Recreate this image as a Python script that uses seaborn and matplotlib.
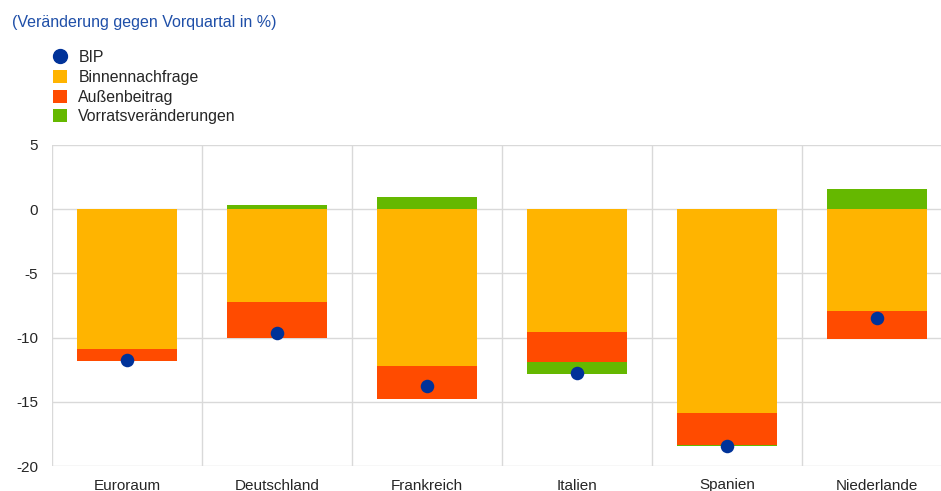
import numpy as np
import pandas as pd
import matplotlib
matplotlib.use("Agg")
import matplotlib.pyplot as plt
from matplotlib.lines import Line2D
from matplotlib.patches import Patch
import seaborn as sns

categories = ["Euroraum", "Deutschland", "Frankreich", "Italien", "Spanien", "Niederlande"]
binnennachfrage = [-10.9, -7.2, -12.2, -9.6, -15.85, -7.95]
aussenbeitrag = [-0.9, -2.85, -2.55, -2.3, -2.55, -2.15]
vorrat = [0.05, 0.35, 0.95, -0.9, -0.07, 1.6]
bip = [-11.75, -9.65, -13.8, -12.75, -18.45, -8.45]
yticks = [5, 0, -5, -10, -15, -20]

col_bip = "#003299"
col_binnen = "#FFB400"
col_aussen = "#FF4B00"
col_vorrat = "#65B800"
grid_col = "#d9d9d9"

sns.set_theme(style="white")
plt.rcParams["font.family"] = ["Liberation Sans", "DejaVu Sans"]

fig = plt.figure(figsize=(9.41, 4.91), dpi=100)
ax = fig.add_axes([52 / 941, 25 / 491, 1 - 52 / 941, (466 - 145) / 491])

x = np.arange(len(categories))
width = 0.667
pos_base = np.zeros(len(categories))
neg_base = np.zeros(len(categories))
for vals, col in [(binnennachfrage, col_binnen), (aussenbeitrag, col_aussen), (vorrat, col_vorrat)]:
    v = np.array(vals, dtype=float)
    bottoms = np.where(v >= 0, pos_base, neg_base)
    ax.bar(x, v, bottom=bottoms, width=width, color=col, linewidth=0, zorder=2)
    pos_base = pos_base + np.where(v >= 0, v, 0)
    neg_base = neg_base + np.where(v < 0, v, 0)

df = pd.DataFrame({"x": x, "bip": bip})
sns.scatterplot(data=df, x="x", y="bip", ax=ax, color=col_bip, s=95, linewidth=0, zorder=3, legend=False)

ax.grid(False)
for t in yticks:
    ax.axhline(t, color=grid_col, linewidth=1, zorder=1)
for b in np.arange(-0.5, 5, 1):
    ax.axvline(b, color=grid_col, linewidth=1, zorder=1)

ax.set_yticks(yticks)
ax.set_yticklabels([str(t) for t in yticks], fontsize=11)
ax.set_xticks(x)
ax.set_xticklabels(categories, fontsize=11)
ax.set_xlabel("")
ax.set_ylabel("")
for s in ax.spines.values():
    s.set_visible(False)
ax.tick_params(axis="both", which="both", length=0)
ax.tick_params(axis="y", pad=10)
ax.tick_params(axis="x", pad=9)
ax.set_xlim(-0.5, 5.5 - 11 / 150)
ax.set_ylim(-20, 5)

fig.text(12 / 941, 1 - 23 / 491, "(Veränderung gegen Vorquartal in %)", color="#1F4FA8",
         fontsize=11.5, va="center", ha="left")

handles = [
    Line2D([0], [0], marker="o", linestyle="none", markerfacecolor=col_bip, markeredgecolor=col_bip, markersize=10),
    Patch(facecolor=col_binnen, edgecolor="none"),
    Patch(facecolor=col_aussen, edgecolor="none"),
    Patch(facecolor=col_vorrat, edgecolor="none"),
]
labels = ["BIP", "Binnennachfrage", "Außenbeitrag", "Vorratsveränderungen"]
fig.legend(handles, labels, loc="upper left", bbox_to_anchor=(53 / 941, 1 - 50 / 491), frameon=False,
           fontsize=11.4, handlelength=0.9, handleheight=0.9, handletextpad=0.7, labelspacing=0.3,
           borderpad=0, borderaxespad=0)

fig.savefig("out.png", dpi=100)
